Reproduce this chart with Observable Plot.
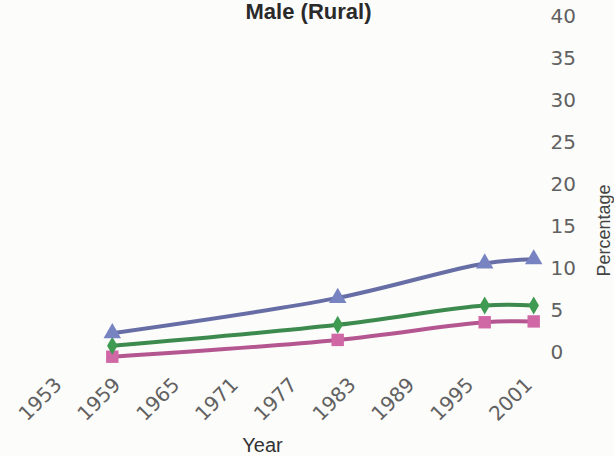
<!DOCTYPE html>
<html>
<head>
<meta charset="utf-8">
<script src="https://cdn.jsdelivr.net/npm/d3@7"></script>
<script src="https://cdn.jsdelivr.net/npm/@observablehq/plot@0.6"></script>
<style>
  html, body { margin: 0; padding: 0; background: #fcfcfa; }
  #chart { width: 614px; height: 456px; overflow: hidden; }
</style>
</head>
<body>
<div id="chart"></div>
<script>
const title = "Male (Rural)";
const xLabel = "Year";
const yLabel = "Percentage";
const years = [1959, 1982, 1997, 2002];
const triangleSeries = [2.3, 6.5, 10.6, 11.1];
const diamondSeries = [0.8, 3.3, 5.6, 5.6];
const squareSeries = [-0.5, 1.5, 3.6, 3.7];
const xTicks = [1953, 1959, 1965, 1971, 1977, 1983, 1989, 1995, 2001];
const yTicks = [0, 5, 10, 15, 20, 25, 30, 35, 40];

const rows = (vals) => years.map((yr, i) => ({year: yr, value: vals[i]}));
const tri = rows(triangleSeries);
const dia = rows(diamondSeries);
const sq = rows(squareSeries);

const chart = Plot.plot({
  width: 614,
  height: 456,
  marginLeft: 53,
  marginRight: 71,
  marginTop: 16,
  marginBottom: 104,
  x: {domain: [1953, 2003]},
  y: {domain: [0, 40]},
  style: {background: "transparent", fontFamily: "'DejaVu Sans', sans-serif", fontSize: "20px", overflow: "visible"},
  marks: [
    Plot.axisX({ticks: xTicks, tickFormat: d => String(d), tickSize: 0, tickPadding: 29, tickRotate: -45, dx: 5, label: null, fontSize: 20, fill: "#616161"}),
    Plot.axisY({anchor: "right", ticks: yTicks, tickSize: 0, tickPadding: 7, label: null, fontSize: 20, fill: "#616161"}),
    Plot.line(sq, {x: "year", y: "value", stroke: "#b4568f", strokeWidth: 4, curve: "catmull-rom"}),
    Plot.line(dia, {x: "year", y: "value", stroke: "#3d8a4e", strokeWidth: 4, curve: "catmull-rom"}),
    Plot.line(tri, {x: "year", y: "value", stroke: "#676ea6", strokeWidth: 4, curve: "catmull-rom"}),
    Plot.dot(sq, {x: "year", y: "value", symbol: "square", r: 7, fill: "#d068a6", stroke: "none"}),
    Plot.dot(dia, {x: "year", y: "value", symbol: "diamond", r: 5.5, fill: "#3f9a52", stroke: "none"}),
    Plot.dot(tri, {x: "year", y: "value", symbol: "triangle", r: 6.5, fill: "#7883c2", stroke: "none"}),
    Plot.text([title], {text: d => d, frameAnchor: "top", dx: 10, dy: 2, lineAnchor: "bottom", fontSize: 22, fontWeight: "bold", fontFamily: "'Liberation Sans', Arial, sans-serif", fill: "#2a2a2a"}),
    Plot.text([xLabel], {text: d => d, frameAnchor: "bottom", dx: -36, dy: 99, lineAnchor: "bottom", fontSize: 20, fontFamily: "'Liberation Sans Narrow', 'Liberation Sans', sans-serif", fill: "#333"}),
    Plot.text([yLabel], {text: d => d, frameAnchor: "right", dx: 61, rotate: -90, fontSize: 18, fontFamily: "'Liberation Sans', Arial, sans-serif", fill: "#444"})
  ]
});
document.getElementById("chart").appendChild(chart);
</script>
</body>
</html>
